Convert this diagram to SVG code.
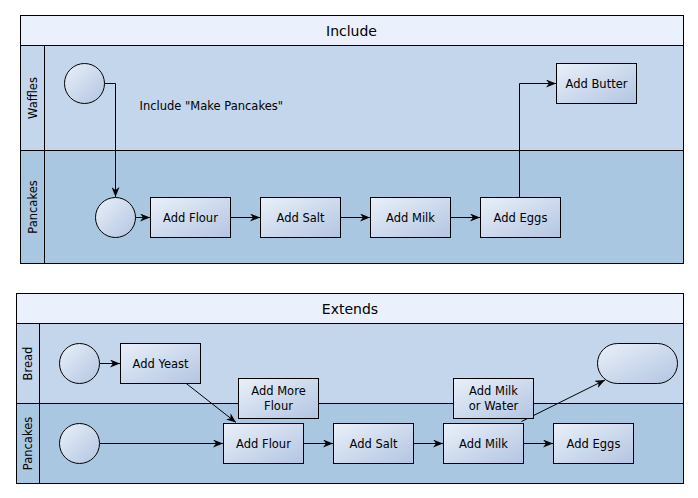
<svg xmlns="http://www.w3.org/2000/svg" width="698" height="498" viewBox="0 0 698 498">
<defs>
<linearGradient id="g" x1="0" y1="0" x2="1" y2="1">
<stop offset="0" stop-color="#EAF0F9"/>
<stop offset="1" stop-color="#B2C5E2"/>
</linearGradient>
<marker id="arr" viewBox="0 0 10 8" refX="10" refY="4" markerWidth="10" markerHeight="8" markerUnits="userSpaceOnUse" orient="auto">
<path d="M0,0 L10,4 L0,8 L3,4 Z" fill="#000"/>
</marker>
</defs>
<style>
.hdr{fill:#EAF1FC;stroke:#000;stroke-width:1}
.l1{fill:#C3D6EB;stroke:#000;stroke-width:1}
.l2{fill:#A9C7E1;stroke:#000;stroke-width:1}
.box{fill:url(#g);stroke:#000;stroke-width:1}
.t{font-family:"DejaVu Sans",Verdana,sans-serif;font-size:11.5px;fill:#000;text-anchor:middle;dominant-baseline:central}
.tt{font-family:"DejaVu Sans",Verdana,sans-serif;font-size:14px;fill:#000;text-anchor:middle;dominant-baseline:central}
.c{fill:none;stroke:#000;stroke-width:1;marker-end:url(#arr)}
</style>
<rect width="698" height="498" fill="#fff"/>

<g id="pool-include">
<rect class="hdr" x="20.5" y="15.5" width="663" height="30"/>
<text class="tt" x="351.5" y="30.5">Include</text>
<rect class="l1" x="20.5" y="45.5" width="663" height="105"/>
<rect class="l2" x="20.5" y="150.5" width="663" height="113"/>
<line x1="44.5" y1="45.5" x2="44.5" y2="263.5" stroke="#000"/>
<text class="t" transform="translate(32.5,98) rotate(-90)">Waffles</text>
<text class="t" transform="translate(32.5,207) rotate(-90)">Pancakes</text>
</g>

<g id="pool-extends">
<rect class="hdr" x="16.5" y="293.5" width="667" height="30"/>
<text class="tt" x="350" y="308.5">Extends</text>
<rect class="l1" x="16.5" y="323.5" width="667" height="80"/>
<rect class="l2" x="16.5" y="403.5" width="667" height="80"/>
<line x1="39.5" y1="323.5" x2="39.5" y2="483.5" stroke="#000"/>
<text class="t" transform="translate(28,363.5) rotate(-90)">Bread</text>
<text class="t" transform="translate(28,443.5) rotate(-90)">Pancakes</text>
</g>

<g id="connectors">
<path class="c" d="M104.5,83.5 H115.5 V197"/>
<path class="c" d="M135.5,217.5 H150"/>
<path class="c" d="M230,217.5 H260"/>
<path class="c" d="M340,217.5 H370"/>
<path class="c" d="M450,217.5 H480"/>
<path class="c" d="M519.5,197.5 V83.5 H556"/>
<path class="c" d="M99.5,363.5 H120"/>
<path class="c" d="M185,382.5 L236,422.5"/>
<path class="c" d="M99.5,443.5 H223"/>
<path class="c" d="M303,443.5 H333"/>
<path class="c" d="M413,443.5 H443"/>
<path class="c" d="M523,443.5 H553"/>
<path class="c" d="M521.5,421.5 L605,380"/>
</g>

<g id="waffles-start"><circle class="box" cx="84.5" cy="83.5" r="20"/></g>
<g id="include-label"><text class="t" x="139.5" y="106" style="text-anchor:start">Include "Make Pancakes"</text></g>
<g id="add-butter"><rect class="box" x="556.5" y="63.5" width="80" height="40"/><text class="t" x="596.5" y="83.5">Add Butter</text></g>
<g id="pancakes-start"><circle class="box" cx="115.5" cy="217.5" r="20"/></g>
<g id="add-flour"><rect class="box" x="150.5" y="197.5" width="80" height="40"/><text class="t" x="190.5" y="217.5">Add Flour</text></g>
<g id="add-salt"><rect class="box" x="260.5" y="197.5" width="80" height="40"/><text class="t" x="300.5" y="217.5">Add Salt</text></g>
<g id="add-milk"><rect class="box" x="370.5" y="197.5" width="80" height="40"/><text class="t" x="410.5" y="217.5">Add Milk</text></g>
<g id="add-eggs"><rect class="box" x="480.5" y="197.5" width="80" height="40"/><text class="t" x="520.5" y="217.5">Add Eggs</text></g>

<g id="bread-start"><circle class="box" cx="79.5" cy="363.5" r="20"/></g>
<g id="add-yeast"><rect class="box" x="120.5" y="343.5" width="80" height="40"/><text class="t" x="160.5" y="363.5">Add Yeast</text></g>
<g id="bread-end"><rect class="box" x="597.5" y="343.5" width="80" height="40" rx="20" ry="20"/></g>
<g id="ext-pancakes-start"><circle class="box" cx="79.5" cy="443.5" r="20"/></g>
<g id="ext-add-flour"><rect class="box" x="223.5" y="423.5" width="80" height="40"/><text class="t" x="263.5" y="443.5">Add Flour</text></g>
<g id="add-more-flour"><rect class="box" x="238.5" y="378.5" width="80" height="40"/><text class="t" x="278.5" y="391">Add More</text><text class="t" x="278.5" y="405.5">Flour</text></g>
<g id="ext-add-salt"><rect class="box" x="333.5" y="423.5" width="80" height="40"/><text class="t" x="373.5" y="443.5">Add Salt</text></g>
<g id="ext-add-milk"><rect class="box" x="443.5" y="423.5" width="80" height="40"/><text class="t" x="483.5" y="443.5">Add Milk</text></g>
<g id="add-milk-or-water"><rect class="box" x="453.5" y="378.5" width="80" height="40"/><text class="t" x="493.5" y="391">Add Milk</text><text class="t" x="493.5" y="405.5">or Water</text></g>
<g id="ext-add-eggs"><rect class="box" x="553.5" y="423.5" width="80" height="40"/><text class="t" x="593.5" y="443.5">Add Eggs</text></g>
</svg>
